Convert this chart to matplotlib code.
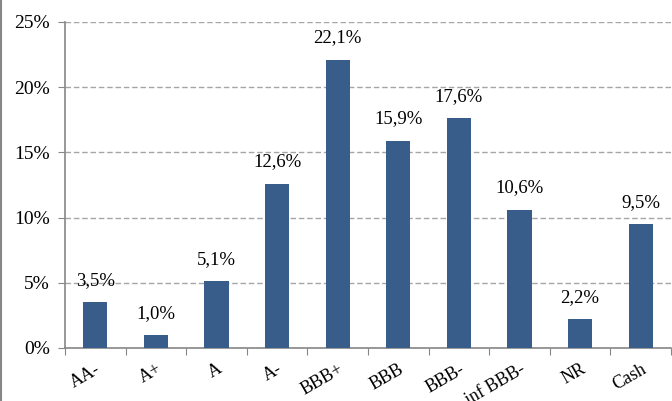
import matplotlib.pyplot as plt
from matplotlib.lines import Line2D
import numpy as np

# Dados do gráfico
categories = ["AA-", "A+", "A", "A-", "BBB+", "BBB", "BBB-", "inf BBB-", "NR", "Cash"]
values = [3.5, 1.0, 5.1, 12.6, 22.1, 15.9, 17.6, 10.6, 2.2, 9.5]
yticks = [0, 5, 10, 15, 20, 25]

plt.rcParams['font.family'] = ['Liberation Serif', 'DejaVu Serif']

fig = plt.figure(figsize=(6.72, 4.01), dpi=100)
ax = fig.add_axes([65 / 672, 53 / 401, 606 / 672, 326 / 401])

x = np.arange(len(categories))
bars = ax.bar(x, values, width=0.4, color='#385D8A', zorder=3)

# Rótulos de dados
for xi, v in zip(x, values):
    ax.annotate(f"{v:.1f}".replace('.', ',') + '%', (xi, v), xytext=(0, 12.5),
                textcoords='offset points', ha='center', va='baseline', fontsize=13.5)

ax.set_xlim(-0.5, len(categories) - 0.5)
ax.set_ylim(0, 25)
ax.set_yticks(yticks)
ax.set_yticklabels([f"{t}%" for t in yticks], fontsize=14)
ax.yaxis.grid(True, linestyle=(0, (4, 2)), color='#A6A6A6', linewidth=1, zorder=0)

ax.set_xticks(np.arange(len(categories) + 1) - 0.5, minor=False)
ax.set_xticklabels([])
ax.set_xticks(x, minor=True)
ax.set_xticklabels(categories, minor=True, rotation=30, ha='right',
                   rotation_mode='anchor', fontsize=13)
ax.tick_params(axis='x', which='minor', length=0, pad=9)
ax.tick_params(axis='x', which='major', length=5, direction='out', color='#868686')
ax.tick_params(axis='y', length=5, direction='out', color='#868686', pad=6)

for side in ['top', 'right']:
    ax.spines[side].set_visible(False)
for side in ['left', 'bottom']:
    ax.spines[side].set_color('#868686')
    ax.spines[side].set_linewidth(1.2)

# Borda esquerda do gráfico
fig.add_artist(Line2D([0.002, 0.002], [0, 1], color='#868686', linewidth=1.5,
                      transform=fig.transFigure))

fig.savefig("out.png", dpi=100)
